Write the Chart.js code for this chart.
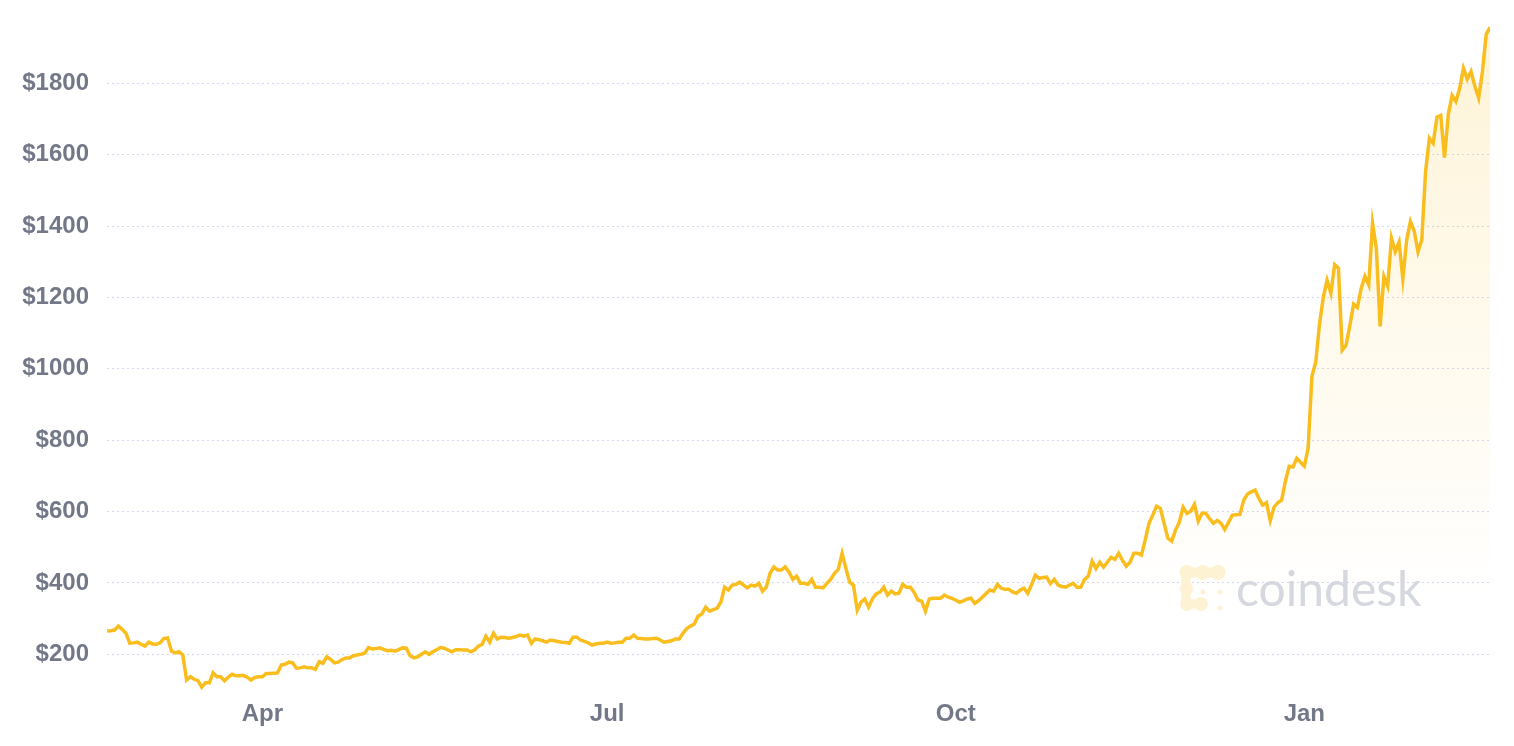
<!DOCTYPE html>
<html><head><meta charset="utf-8">
<script src="https://cdn.jsdelivr.net/npm/chart.js@4.4.0/dist/chart.umd.min.js"></script>
<style>html,body{margin:0;padding:0;background:#fff;overflow:hidden}canvas{display:block}</style>
</head><body>
<canvas id="c" width="1514" height="746"></canvas>
<script>
// Daily ETH price (USD), one value per day starting 2020-02-20
const startDate = '2020-02-20';
const prices = [
 265,266,268,279,270,259,231,232,234,228,
 223,234,229,228,232,244,246,209,204,207,
 198,128,137,130,126,108,120,120,148,137,
 137,126,136,144,140,140,141,136,128,135,
 137,137,146,146,147,148,170,172,178,176,
 161,162,165,162,162,158,179,175,193,186,
 176,178,185,190,190,196,198,200,203,219,
 215,216,218,214,210,211,209,213,218,217,
 196,190,193,200,207,200,207,213,219,217,
 212,207,213,213,212,212,207,212,223,228,
 251,234,259,243,248,247,245,247,250,254,
 251,254,231,243,241,238,234,240,238,236,
 234,233,231,248,248,240,236,232,226,229,
 231,231,234,231,232,234,234,245,245,254,
 245,244,243,243,244,245,240,234,236,238,
 243,243,259,272,279,285,307,313,332,321,
 325,329,346,388,380,394,396,402,394,386,
 394,391,399,377,388,427,445,436,436,445,
 430,410,419,399,399,396,410,388,388,386,
 399,410,427,438,483,441,402,394,324,346,
 355,332,355,369,374,388,366,377,369,371,
 396,388,388,374,352,349,321,355,357,357,
 357,366,360,357,352,346,350,355,357,343,
 350,360,370,380,377,396,385,382,382,375,
 371,380,385,371,395,422,413,415,416,398,
 410,394,390,388,394,399,388,388,410,419,
 461,440,458,444,458,472,466,483,463,447,
 458,483,483,478,520,567,590,615,609,567,
 525,517,548,570,612,595,601,620,573,595,
 595,580,567,575,567,550,570,590,591,592,
 632,649,655,660,637,618,625,575,612,625,
 632,685,727,725,749,738,727,778,979,1018,
 1125,1200,1248,1212,1292,1282,1052,1066,1120,1181,
 1172,1225,1259,1235,1408,1338,1119,1259,1232,1366,
 1328,1355,1252,1360,1413,1386,1328,1362,1553,1646,
 1632,1705,1710,1592,1713,1766,1749,1786,1842,1812,
 1833,1792,1759,1833,1937,1957
];
const tickDays = [41, 132, 224, 316];
const tickLabels = ['Apr', 'Jul', 'Oct', 'Jan'];
const yTicks = [200, 400, 600, 800, 1000, 1200, 1400, 1600, 1800];

const labelFont = {family: "'Liberation Sans', Arial, sans-serif", size: 24, weight: 'bold'};
const labelColor = '#737888';

const watermark = {
  id: 'watermark',
  beforeDatasetsDraw(chart) {
    const ctx = chart.ctx;
    ctx.save();
    ctx.fillStyle = '#fdf2d3';
    const rect = (x, y, w, h) => { ctx.fillRect(x, y, w, h); };
    const dot = (x, y, r) => { ctx.beginPath(); ctx.arc(x, y, r, 0, Math.PI * 2); ctx.fill(); };
    // top bar blobs
    [[1187, 572.5], [1203, 572.5], [1218, 572.5]].forEach(([x, y]) => dot(x, y, 7.5));
    rect(1187, 567.5, 31, 10);
    // left bar blobs
    [[1186.5, 589]].forEach(([x, y]) => dot(x, y, 6.5));
    rect(1181.5, 572, 9, 32);
    // bottom bar blobs
    [[1187, 604], [1201, 604]].forEach(([x, y]) => dot(x, y, 7));
    rect(1187, 599.5, 14, 9);
    // small dots
    [[1203, 592], [1220, 592], [1220, 608]].forEach(([x, y]) => dot(x, y, 2.5));
    ctx.font = "400 48px Lato, 'Open Sans', sans-serif";
    ctx.fillStyle = '#d5d8df';
    ctx.textBaseline = 'alphabetic';
    ctx.fillText('coindesk', 1236, 606);
    ctx.restore();
  }
};

new Chart(document.getElementById('c'), {
  type: 'line',
  data: {
    datasets: [{
      data: prices.map((v, i) => ({x: i, y: v})),
      borderColor: '#f9be1e',
      borderWidth: 3.5,
      pointRadius: 0,
      tension: 0,
      fill: 'start',
      backgroundColor: (c) => {
        const a = c.chart.chartArea;
        if (!a) return 'rgba(0,0,0,0)';
        const g = c.chart.ctx.createLinearGradient(0, a.top, 0, a.bottom);
        g.addColorStop(0, 'rgba(249,191,31,0.18)');
        g.addColorStop(0.87, 'rgba(249,191,31,0)');
        g.addColorStop(1, 'rgba(249,191,31,0)');
        return g;
      }
    }]
  },
  options: {
    responsive: false,
    animation: false,
    devicePixelRatio: 1,
    layout: {padding: {left: 0, right: 24, top: 19, bottom: 0}},
    plugins: {legend: {display: false}, tooltip: {enabled: false}},
    scales: {
      x: {
        type: 'linear', min: 0, max: prices.length - 1,
        afterBuildTicks: s => { s.ticks = tickDays.map(v => ({value: v})); },
        afterFit: s => { s.height = 56; s.paddingLeft = 0; s.paddingRight = 0; },
        ticks: {
          callback: v => { const i = tickDays.indexOf(v); return i >= 0 ? tickLabels[i] : ''; },
          font: labelFont, color: labelColor, padding: 10, maxRotation: 0, autoSkip: false
        },
        grid: {display: false, drawTicks: false},
        border: {display: false}
      },
      y: {
        min: 100, max: 1980,
        afterBuildTicks: s => { s.ticks = yTicks.map(v => ({value: v})); },
        afterFit: s => { s.width = 107; s.paddingTop = 0; s.paddingBottom = 0; },
        ticks: {callback: v => '$' + v, font: labelFont, color: labelColor, padding: 18, autoSkip: false},
        grid: {color: '#d3d8f2', lineWidth: 1, drawTicks: false},
        border: {display: false, dash: [2, 3]}
      }
    }
  },
  plugins: [watermark]
});
</script>
</body></html>
